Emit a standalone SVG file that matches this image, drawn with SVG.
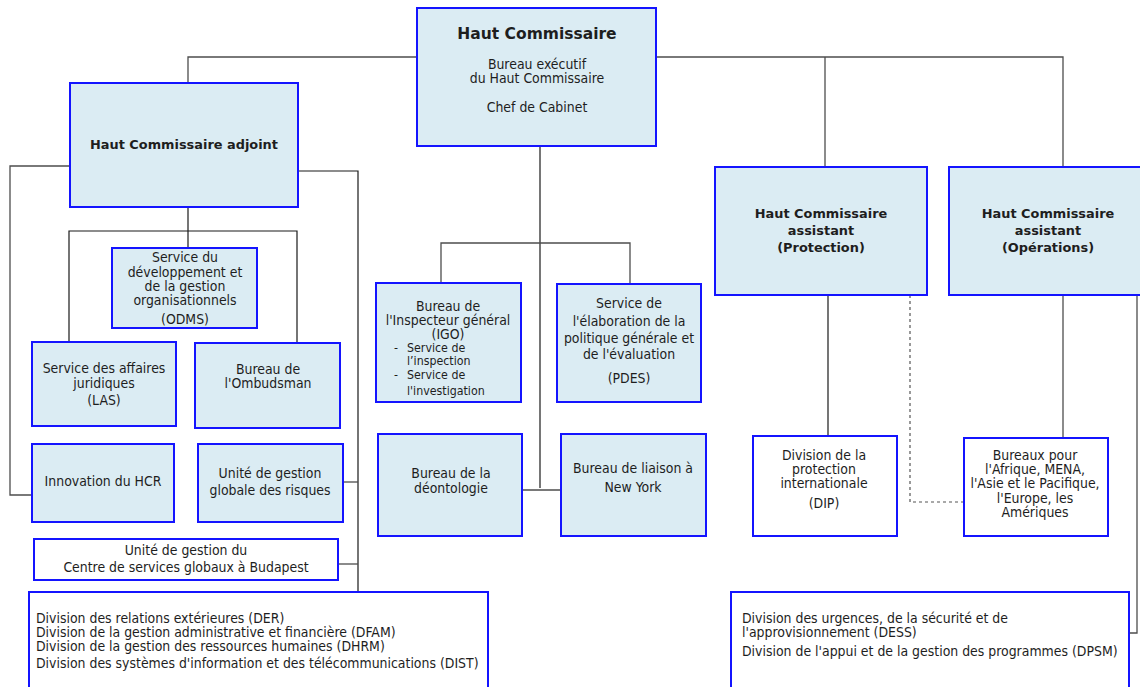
<svg xmlns="http://www.w3.org/2000/svg" width="1140" height="687" viewBox="0 0 1140 687">
<style>
text{font-family:"DejaVu Sans Condensed","DejaVu Sans","Liberation Sans",sans-serif;font-stretch:condensed;fill:#1e1e1e;font-size:13.9px}
.c{text-anchor:middle}
.b{font-weight:bold;font-stretch:normal;font-family:"DejaVu Sans","Liberation Sans",sans-serif;font-size:12.9px}
.t{font-size:15.5px}
.box{fill:#dbecf3;stroke:#1414ff;stroke-width:2}
.wbox{fill:#ffffff;stroke:#1414ff;stroke-width:2}
.ln{fill:none;stroke:#4d4d4d;stroke-width:1.3}
.dk{fill:none;stroke:#1a1a1a;stroke-width:1.2}
.ds{fill:none;stroke:#555;stroke-width:1.2;stroke-dasharray:3,3}
.sm{font-size:12.3px}
</style>
<rect width="1140" height="687" fill="#ffffff"/>
<g id="connectors">
<polyline class="ln" points="188,83 188,57 1063,57 1063,167"/>
<line class="ln" x1="825" y1="57" x2="825" y2="167"/>
<line class="dk" x1="540" y1="146" x2="540" y2="488"/>
<polyline class="ln" points="441,283 441,243 630,243 630,284"/>
<line class="ln" x1="522" y1="490" x2="561" y2="490"/>
<polyline class="ln" points="70,166 10,166 10,495 32,495"/>
<polyline class="dk" points="298,171 358,171 358,592"/>
<line class="ln" x1="343" y1="482" x2="358" y2="482"/>
<line class="ln" x1="338" y1="564" x2="358" y2="564"/>
<line class="dk" x1="188" y1="207" x2="188" y2="248"/>
<polyline class="dk" points="69,342 69,231 297,231 297,343"/>
<line class="dk" x1="828" y1="295" x2="828" y2="436"/>
<polyline class="ds" points="910,295 910,502 964,502"/>
<line class="ln" x1="1063" y1="295" x2="1063" y2="438"/>
<polyline class="ln" points="1137,295 1137,633 1129,633"/>
</g>
<g id="hc">
<rect class="box" x="417" y="8" width="239" height="138"/>
<text class="c b t" x="537" y="39">Haut Commissaire</text>
<text class="c" x="537" y="69">Bureau exécutif</text>
<text class="c" x="537" y="83">du Haut Commissaire</text>
<text class="c" x="537" y="112">Chef de Cabinet</text>
</g>
<g id="hca">
<rect class="box" x="70" y="83" width="228" height="124"/>
<text class="c b" x="184" y="149">Haut Commissaire adjoint</text>
</g>
<g id="hcp">
<rect class="box" x="715" y="167" width="212" height="128"/>
<text class="c b" x="821" y="218">Haut Commissaire</text>
<text class="c b" x="821" y="235">assistant</text>
<text class="c b" x="821" y="252">(Protection)</text>
</g>
<g id="hco">
<rect class="box" x="949" y="167" width="195" height="128"/>
<text class="c b" x="1048" y="218">Haut Commissaire</text>
<text class="c b" x="1048" y="235">assistant</text>
<text class="c b" x="1048" y="252">(Opérations)</text>
</g>
<g id="odms">
<rect class="box" x="112" y="248" width="145" height="80"/>
<text class="c" x="185" y="262">Service du</text>
<text class="c" x="185" y="277">développement et</text>
<text class="c" x="185" y="291">de la gestion</text>
<text class="c" x="185" y="305">organisationnels</text>
<text class="c" x="185" y="324">(ODMS)</text>
</g>
<g id="las">
<rect class="box" x="32" y="342" width="144" height="84"/>
<text class="c" x="104" y="373">Service des affaires</text>
<text class="c" x="104" y="388">juridiques</text>
<text class="c" x="104" y="405">(LAS)</text>
</g>
<g id="ombudsman">
<rect class="box" x="195" y="343" width="145" height="85"/>
<text class="c" x="268" y="374">Bureau de</text>
<text class="c" x="268" y="388">l'Ombudsman</text>
</g>
<g id="innovation">
<rect class="box" x="32" y="444" width="142" height="78"/>
<text class="c" x="103" y="486">Innovation du HCR</text>
</g>
<g id="risques">
<rect class="box" x="198" y="444" width="145" height="78"/>
<text class="c" x="270" y="478">Unité de gestion</text>
<text class="c" x="270" y="495">globale des risques</text>
</g>
<g id="budapest">
<rect class="wbox" x="34" y="539" width="304" height="41"/>
<text class="c" x="186" y="555">Unité de gestion du</text>
<text class="c" x="186" y="572">Centre de services globaux à Budapest</text>
</g>
<g id="igo">
<rect class="box" x="376" y="283" width="145" height="119"/>
<text class="c" x="448" y="311">Bureau de</text>
<text class="c" x="448" y="325">l'Inspecteur général</text>
<text class="c" x="448" y="339">(IGO)</text>
<text class="sm" x="394" y="352">-</text>
<text class="sm" x="407" y="352">Service de</text>
<text class="sm" x="407" y="365">l’inspection</text>
<text class="sm" x="394" y="379">-</text>
<text class="sm" x="407" y="379">Service de</text>
<text class="sm" x="407" y="395">l'investigation</text>
</g>
<g id="pdes">
<rect class="box" x="557" y="284" width="144" height="118"/>
<text class="c" x="629" y="308">Service de</text>
<text class="c" x="629" y="326">l'élaboration de la</text>
<text class="c" x="629" y="343">politique générale et</text>
<text class="c" x="629" y="359">de l'évaluation</text>
<text class="c" x="629" y="383">(PDES)</text>
</g>
<g id="deontologie">
<rect class="box" x="378" y="434" width="144" height="102"/>
<text class="c" x="451" y="478">Bureau de la</text>
<text class="c" x="451" y="493">déontologie</text>
</g>
<g id="newyork">
<rect class="box" x="561" y="434" width="145" height="102"/>
<text class="c" x="633" y="473">Bureau de liaison à</text>
<text class="c" x="633" y="492">New York</text>
</g>
<g id="dip">
<rect class="wbox" x="753" y="436" width="144" height="100"/>
<text class="c" x="824" y="460">Division de la</text>
<text class="c" x="824" y="474">protection</text>
<text class="c" x="824" y="488">internationale</text>
<text class="c" x="824" y="508">(DIP)</text>
</g>
<g id="bureaux">
<rect class="wbox" x="964" y="438" width="144" height="98"/>
<text class="c" x="1035" y="460">Bureaux pour</text>
<text class="c" x="1035" y="474">l'Afrique, MENA,</text>
<text class="c" x="1035" y="488">l'Asie et le Pacifique,</text>
<text class="c" x="1035" y="503">l'Europe, les</text>
<text class="c" x="1035" y="517">Amériques</text>
</g>
<g id="divisions-gauche">
<rect class="wbox" x="29" y="592" width="459" height="100"/>
<text x="36" y="623">Division des relations extérieures (DER)</text>
<text x="36" y="637">Division de la gestion administrative et financière (DFAM)</text>
<text x="36" y="651">Division de la gestion des ressources humaines (DHRM)</text>
<text x="36" y="668">Division des systèmes d'information et des télécommunications (DIST)</text>
</g>
<g id="divisions-droite">
<rect class="wbox" x="731" y="592" width="398" height="100"/>
<text x="742" y="623">Division des urgences, de la sécurité et de</text>
<text x="742" y="637">l'approvisionnement (DESS)</text>
<text x="742" y="656">Division de l'appui et de la gestion des programmes (DPSM)</text>
</g>
</svg>
